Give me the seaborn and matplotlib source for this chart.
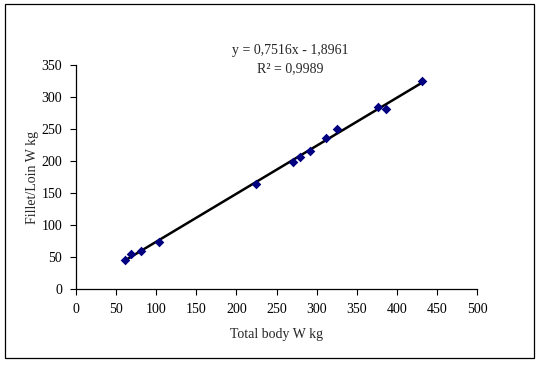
import pandas as pd
import matplotlib.pyplot as plt
import seaborn as sns
from matplotlib.patches import Rectangle

# Values
total_body_w = [61, 69, 81, 103, 224, 270, 279, 292, 312, 326, 377, 386, 432]
fillet_loin_w = [45, 55, 60, 73, 164, 198, 206, 216, 236, 250, 285, 281, 325]
equation_text = 'y = 0,7516x - 1,8961'
r2_text = 'R² = 0,9989'

df = pd.DataFrame({'Total body W kg': total_body_w, 'Fillet/Loin W kg': fillet_loin_w})

sns.set_style('white')
plt.rcParams['font.family'] = ['Liberation Serif', 'DejaVu Serif']

fig = plt.figure(figsize=(5.39, 3.65), dpi=100)
ax = fig.add_axes([0.141, 0.208, 0.744, 0.614])

sns.regplot(
    data=df, x='Total body W kg', y='Fillet/Loin W kg', ax=ax,
    ci=None, truncate=True, marker='D', color='#000080',
    scatter_kws={'s': 24, 'alpha': 1, 'zorder': 3, 'linewidths': 0},
    line_kws={'color': 'black', 'linewidth': 1.8, 'zorder': 2},
)

ax.set_xlim(0, 500)
ax.set_ylim(0, 350)
ax.set_xticks(range(0, 501, 50))
ax.set_yticks(range(0, 351, 50))
ax.tick_params(direction='out', length=4, width=0.8, labelsize=10, colors='black',
               left=True, bottom=True, pad=6)
for side in ['top', 'right']:
    ax.spines[side].set_visible(False)
for side in ['left', 'bottom']:
    ax.spines[side].set_color('black')
    ax.spines[side].set_linewidth(0.9)

ax.set_xlabel('Total body W kg', fontsize=10, labelpad=9)
ax.set_ylabel('Fillet/Loin W kg', fontsize=10, labelpad=2)

fig.text(0.538, 0.862, equation_text, ha='center', va='center', fontsize=10)
fig.text(0.538, 0.812, r2_text, ha='center', va='center', fontsize=10)

# outer chart border
fig.patches.append(Rectangle((0.009, 0.019), 0.982, 0.970, transform=fig.transFigure,
                             fill=False, edgecolor='black', linewidth=0.9))

fig.savefig('out.png', dpi=100)
